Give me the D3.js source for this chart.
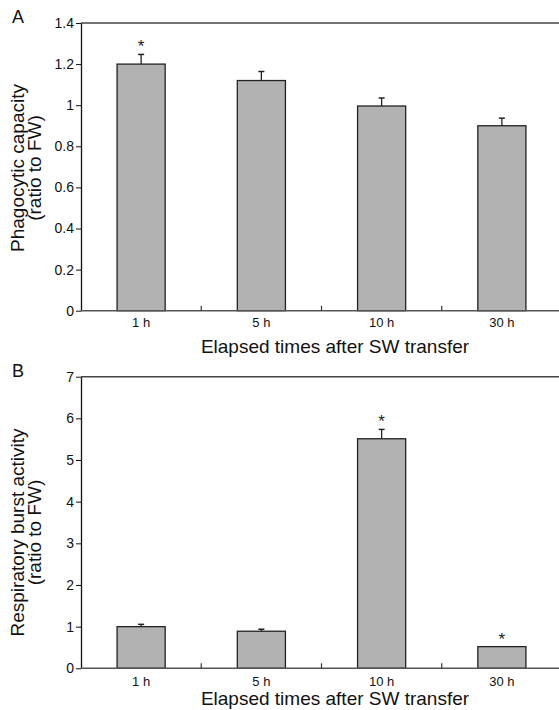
<!DOCTYPE html>
<html>
<head>
<meta charset="utf-8">
<script src="https://cdn.jsdelivr.net/npm/d3@7"></script>
<style>
  body { margin: 0; background: #fff; }
  svg { display: block; font-family: "Liberation Sans", Arial, sans-serif; }
</style>
</head>
<body>
<svg id="chart" width="559" height="710"></svg>
<script>
// time points after seawater transfer
var categories = ["1 h", "5 h", "10 h", "30 h"];

// panel A: phagocytic capacity
var phagoValues = [1.2, 1.12, 0.996, 0.9];
var phagoErrors = [0.047, 0.044, 0.039, 0.037];
var phagoSig = [true, false, false, false];
var phagoTicks = [0, 0.2, 0.4, 0.6, 0.8, 1, 1.2, 1.4];
var phagoTickLabels = ["0", "0.2", "0.4", "0.6", "0.8", "1", "1.2", "1.4"];

// panel B: respiratory burst activity
var burstValues = [1.0, 0.89, 5.51, 0.52];
var burstErrors = [0.055, 0.048, 0.225, 0];
var burstSig = [false, false, true, true];
var burstTicks = [0, 1, 2, 3, 4, 5, 6, 7];
var burstTickLabels = ["0", "1", "2", "3", "4", "5", "6", "7"];

var svg = d3.select("#chart");

function drawPanel(opt) {
    var g = svg.append("g");

    var x = d3.scaleBand()
        .domain(categories)
        .range([81, 562])
        .paddingInner(0.6)
        .paddingOuter(0.3);

    var y = d3.scaleLinear()
        .domain([0, opt.max])
        .range([opt.bottom, opt.top]);

    // top frame line
    g.append("line")
        .attr("x1", 81).attr("x2", 559)
        .attr("y1", y(opt.max)).attr("y2", y(opt.max))
        .attr("stroke", "#444").attr("stroke-width", 1.5);

    // bars
    g.selectAll(".bar")
        .data(opt.values)
        .enter().append("rect")
        .attr("class", "bar")
        .attr("x", function (d, i) { return x(categories[i]); })
        .attr("y", function (d) { return y(d); })
        .attr("width", x.bandwidth())
        .attr("height", function (d) { return y(0) - y(d); })
        .attr("fill", "#b2b2b2")
        .attr("stroke", "#222")
        .attr("stroke-width", 1.3);

    // error bars (upper only)
    opt.values.forEach(function (d, i) {
        if (opt.errors[i] <= 0) return;
        var cx = x(categories[i]) + x.bandwidth() / 2;
        g.append("line")
            .attr("x1", cx).attr("x2", cx)
            .attr("y1", y(d)).attr("y2", y(d + opt.errors[i]))
            .attr("stroke", "#222").attr("stroke-width", 1.3);
        g.append("line")
            .attr("x1", cx - 3).attr("x2", cx + 3)
            .attr("y1", y(d + opt.errors[i])).attr("y2", y(d + opt.errors[i]))
            .attr("stroke", "#222").attr("stroke-width", 1.5);
    });

    // significance marks
    opt.values.forEach(function (d, i) {
        if (!opt.sig[i]) return;
        g.append("text")
            .attr("x", x(categories[i]) + x.bandwidth() / 2)
            .attr("y", y(d + opt.errors[i]) - 2)
            .attr("text-anchor", "middle")
            .style("font-size", "17px")
            .attr("fill", "#222")
            .text("*");
    });

    // y axis
    var yAxis = g.append("g")
        .attr("transform", "translate(81,0)")
        .call(d3.axisLeft(y)
            .tickValues(opt.ticks)
            .tickFormat(function (d, i) { return opt.tickLabels[i]; })
            .tickSize(5)
            .tickPadding(2)
            .tickSizeOuter(0));
    yAxis.select(".domain").attr("stroke", "#111").attr("stroke-width", 1.3);
    yAxis.selectAll(".tick line").attr("stroke", "#111");
    yAxis.selectAll("text").style("font-size", "14px").attr("fill", "#111").attr("font-family", null);
    yAxis.attr("font-family", null);

    // x axis line and labels
    g.append("line")
        .attr("x1", 81).attr("x2", 559)
        .attr("y1", y(0)).attr("y2", y(0))
        .attr("stroke", "#555").attr("stroke-width", 1.5);

    var xAxis = g.append("g")
        .attr("transform", "translate(0," + y(0) + ")")
        .call(d3.axisBottom(x).tickSize(0).tickPadding(opt.labelGap));
    xAxis.select(".domain").remove();
    xAxis.attr("font-family", null);
    xAxis.selectAll("text").style("font-size", "13px").attr("fill", "#111");

    // inner ticks between categories
    var boundaries = categories.slice(0, -1).map(function (c) {
        return x(c) + x.bandwidth() + (x.step() - x.bandwidth()) / 2;
    });
    g.selectAll(".sep")
        .data(boundaries)
        .enter().append("line")
        .attr("class", "sep")
        .attr("x1", function (d) { return d; })
        .attr("x2", function (d) { return d; })
        .attr("y1", y(0)).attr("y2", y(0) - 5)
        .attr("stroke", "#333").attr("stroke-width", 1.2);

    // axis titles
    g.append("text")
        .attr("x", 335)
        .attr("y", opt.xTitleY)
        .attr("text-anchor", "middle")
        .style("font-size", "19px")
        .attr("fill", "#111")
        .text("Elapsed times after SW transfer");

    var yt = g.append("text")
        .attr("transform", "translate(0," + opt.yTitleCenter + ") rotate(-90)")
        .attr("text-anchor", "middle")
        .style("font-size", "19px")
        .attr("fill", "#111");
    yt.append("tspan").attr("x", 0).attr("y", 23.5).text(opt.yTitle);
    yt.append("tspan").attr("x", 0).attr("y", 41).text("(ratio to FW)");

    // panel letter
    g.append("text")
        .attr("x", 12)
        .attr("y", opt.letterY)
        .style("font-size", "18px")
        .attr("fill", "#111")
        .text(opt.letter);
}

drawPanel({
    values: phagoValues, errors: phagoErrors, sig: phagoSig,
    ticks: phagoTicks, tickLabels: phagoTickLabels,
    max: 1.4, top: 23, bottom: 310.7, labelGap: 7,
    xTitleY: 352.7, yTitleCenter: 168, yTitle: "Phagocytic capacity",
    letter: "A", letterY: 23.3
});

drawPanel({
    values: burstValues, errors: burstErrors, sig: burstSig,
    ticks: burstTicks, tickLabels: burstTickLabels,
    max: 7, top: 376.7, bottom: 668.3, labelGap: 8,
    xTitleY: 705, yTitleCenter: 532.5, yTitle: "Respiratory burst activity",
    letter: "B", letterY: 376.7
});
</script>
</body>
</html>
